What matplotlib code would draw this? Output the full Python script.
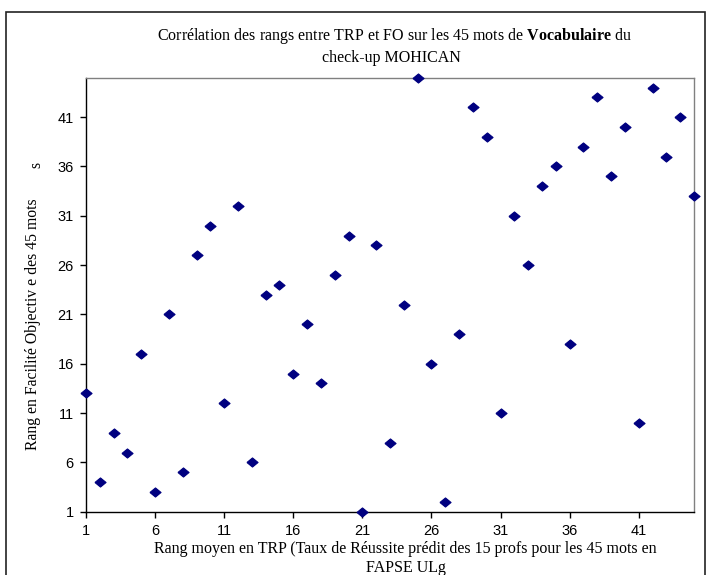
import matplotlib
matplotlib.use("Agg")
import matplotlib.pyplot as plt
from matplotlib.patches import Rectangle

# Data: rank in TRP (x) vs rank in objective facility (y)
trp_rank = list(range(1, 46))
fo_rank = [13, 4, 9, 7, 17, 3, 21, 5, 27, 30,
           12, 32, 6, 23, 24, 15, 20, 14, 25, 29,
           1, 28, 8, 22, 45, 16, 2, 19, 42, 39,
           11, 31, 26, 34, 36, 18, 38, 43, 35, 40,
           10, 44, 37, 41, 33]
x_ticks = [1, 6, 11, 16, 21, 26, 31, 36, 41]
y_ticks = [1, 6, 11, 16, 21, 26, 31, 36, 41]

plt.rcParams['mathtext.fontset'] = 'custom'
plt.rcParams['mathtext.rm'] = 'Liberation Serif'
plt.rcParams['mathtext.bf'] = 'Liberation Serif:bold'

W, H = 710, 575
fig = plt.figure(figsize=(W / 100, H / 100), dpi=100)
L, R, T, B = 86, 694, 77.7, 511.7
ax = fig.add_axes([L / W, 1 - B / H, (R - L) / W, (B - T) / H])

diamond = [(-1, 0), (0, 0.82), (1, 0), (0, -0.82), (-1, 0)]
ax.plot(trp_rank, fo_rank, linestyle='none', marker=diamond, markersize=8,
        color='#000080', markeredgecolor='#000080', markeredgewidth=0.8,
        clip_on=False, zorder=5)

ax.set_xlim(1, 45)
ax.set_ylim(1, 45)
ax.set_xticks(x_ticks)
ax.set_yticks(y_ticks)
for lab in ax.get_xticklabels() + ax.get_yticklabels():
    lab.set_fontfamily('Liberation Sans')
    lab.set_fontsize(10.5)
ax.tick_params(axis='both', direction='out', length=4.3, width=1, color='black', pad=4.5)
ax.spines['left'].set_color('black')
ax.spines['bottom'].set_color('black')
ax.spines['top'].set_color('#808080')
ax.spines['right'].set_color('#808080')
for s in ax.spines.values():
    s.set_linewidth(1)

serif = 'Liberation Serif'
fig.text(394 / W, 1 - 36 / H,
         r"Corrélation des rangs entre TRP et FO sur les 45 mots de $\mathbf{Vocabulaire}$ du",
         ha='center', va='center', fontfamily=serif, fontsize=11.5)
fig.text(391 / W, 1 - 58 / H, "check-up MOHICAN",
         ha='center', va='center', fontfamily=serif, fontsize=11.5)

fig.text(33 / W, 1 - 324 / H, "Rang en Facilité Objectiv e des 45 mots",
         rotation=90, ha='center', va='center', fontfamily=serif, fontsize=11.3)
fig.text(36 / W, 1 - 165 / H, "s",
         rotation=90, ha='center', va='center', fontfamily=serif, fontsize=11.3)

fig.text(405 / W, 1 - 549 / H,
         "Rang moyen en TRP (Taux de Réussite prédit des 15 profs pour les 45 mots en",
         ha='center', va='center', fontfamily=serif, fontsize=11.5)
fig.text(406 / W, 1 - 568 / H, "FAPSE ULg",
         ha='center', va='center', fontfamily=serif, fontsize=11.5)

fig.patches.append(Rectangle((6 / W, -0.05), (705 - 6) / W, 1 - 12 / H + 0.05,
                             transform=fig.transFigure, fill=False,
                             edgecolor='#222222', linewidth=1.2))

fig.savefig('out.png', dpi=100)
